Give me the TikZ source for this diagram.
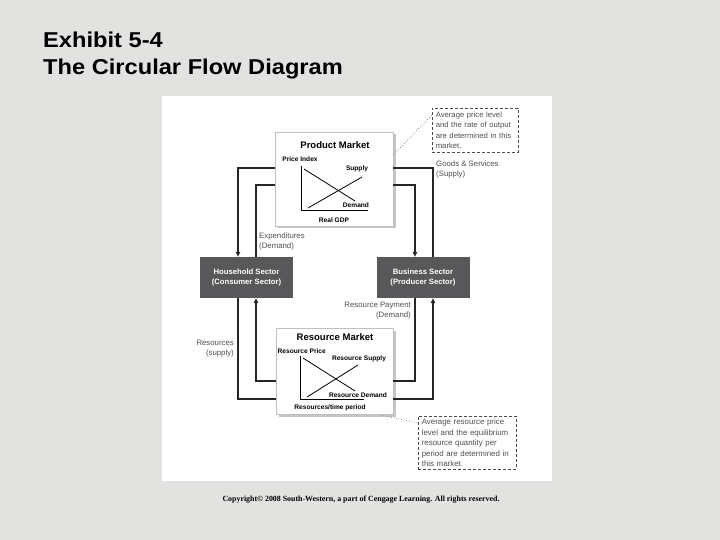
\documentclass[tikz,border=0pt]{standalone}
\usepackage{fontspec}
\setmainfont{Liberation Sans}
\newfontfamily\cfont{Liberation Serif}
\newfontfamily\titlefont{Liberation Sans}[FakeStretch=1.1]
\usetikzlibrary{shadows,arrows.meta}
\definecolor{bgc}{RGB}{226,226,224}
\definecolor{boxc}{RGB}{88,88,90}
\definecolor{lblc}{RGB}{80,80,80}
\begin{document}
\begin{tikzpicture}[x=1pt,y=-1pt,
  flow/.style={line width=1.1pt, draw=black!85},
  arr/.style={flow, -{Triangle[length=5pt,width=4.5pt]}},
  sector/.style={fill=boxc, text=white, font=\bfseries\fontsize{7.7}{10}\selectfont, minimum width=93pt, minimum height=41pt, align=center, inner sep=0pt},
  market/.style={draw=black!25, line width=0.3pt, fill=white, drop shadow={shadow xshift=2.5pt, shadow yshift=-2.5pt, opacity=0.45}, inner sep=0pt},
  mtitle/.style={font=\bfseries\fontsize{9.5}{11}\selectfont},
  axl/.style={font=\bfseries\fontsize{6.6}{8}\selectfont, inner sep=0.5pt},
  note/.style={draw=black!70, densely dashed, line width=0.6pt, fill=white, align=left, text=lblc, inner xsep=3.5pt, inner ysep=1.5pt, anchor=north west},
  lbl/.style={font=\fontsize{7.8}{9.5}\selectfont, text=lblc, inner sep=0pt},
  curve/.style={line width=0.8pt}
]
\useasboundingbox (0,0) rectangle (720,540);
\fill[bgc] (0,0) rectangle (720,540);
\fill[white] (162,96) rectangle (552,481);

% title
\node[anchor=base west, font=\titlefont\bfseries\fontsize{21.5}{24}\selectfont, inner sep=0pt] (t1) at (43,48) {Exhibit 5-4};
\node[anchor=base west, font=\titlefont\bfseries\fontsize{21.5}{24}\selectfont, inner sep=0pt] (t2) at (43,75) {The Circular Flow Diagram};

% sectors
\node[sector] (hh) at (246.5,277.5) {Household Sector\\(Consumer Sector)};
\node[sector] (bs) at (423,277.5) {Business Sector\\(Producer Sector)};

% markets
\node[market, minimum width=118pt, minimum height=94pt] (pm) at (334,179) {};
\node[market, minimum width=117pt, minimum height=86pt] (rm) at (334.5,371) {};

% guide coordinates
\coordinate (yOT) at (0,168);
\coordinate (yIT) at (0,185);
\coordinate (yIB) at (0,381);
\coordinate (yOB) at (0,399);
\coordinate (xOL) at (238,0);
\coordinate (xIL) at (256,0);
\coordinate (xIR) at (415,0);
\coordinate (xOR) at (433,0);

% goods & services
\draw[flow] (bs.north -| xOR) |- (pm.east |- yOT);
\draw[arr] (pm.west |- yOT) -| (hh.north -| xOL);
% expenditures
\draw[flow] (hh.north -| xIL) |- (pm.west |- yIT);
\draw[arr] (pm.east |- yIT) -| (bs.north -| xIR);
% resource payment
\draw[flow] (bs.south -| xIR) |- (rm.east |- yIB);
\draw[arr] (rm.west |- yIB) -| (hh.south -| xIL);
% resources
\draw[flow] (hh.south -| xOL) |- (rm.west |- yOB);
\draw[arr] (rm.east |- yOB) -| (bs.south -| xOR);

% product market contents
\node[mtitle] (pmt) at (335,145) {Product Market};
\node[axl] (pmy) at (300,159) {Price Index};
\coordinate (pa0) at (301,210);
\draw[line width=0.7pt] (301,166) -- (pa0) -- (368,210);
\draw[curve] (304,169) -- (355,201);
\draw[curve] (308,208) -- (362,177);
\node[axl] (pms) at (357,169) {Supply};
\node[axl] (pmd) at (356,205) {Demand};
\node[axl] (pmx) at (334,220) {Real GDP};

% resource market contents
\node[mtitle] (rmt) at (335,337) {Resource Market};
\node[axl, anchor=west] (rmy) at (277,351) {Resource Price};
\draw[line width=0.7pt] (300,356) -- (300,399) -- (364,399);
\draw[curve] (303,358) -- (355,391);
\draw[curve] (307,397) -- (358,365);
\node[axl] (rms) at (359,359) {Resource Supply};
\node[axl] (rmd) at (358,395) {Resource Demand};
\node[axl] (rmx) at (330,408) {Resources/time period};

% notes
\node[note, font=\fontsize{7.7}{10.3}\selectfont, text width=79pt, minimum height=44pt] (n1) at (432,108) {Average price level\\and the rate of output\\are determined in this\\market.};
\node[note, font=\fontsize{7.9}{10.4}\selectfont, text width=91pt, minimum height=53pt] (n2) at (418,416) {Average resource price\\level and the equilibrium\\resource quantity per\\period are determined in\\this market.};
\coordinate (d1) at (393,155);
\coordinate (d2) at (381,415);
\draw[dotted, line width=0.6pt, black!70] (d1) -- ([yshift=-7pt]n1.north west);
\draw[dotted, line width=0.6pt, black!70] (d2) -- ([yshift=-7pt]n2.north west);

% flow labels
\node[lbl, anchor=north west, align=left] (lg) at (436,161) {Goods \& Services\\(Supply)};
\node[lbl, anchor=north west, align=left] (le) at (259,233) {Expenditures\\(Demand)};
\node[lbl, anchor=north east, align=right] (lr) at (411,302) {Resource Payment\\(Demand)};
\node[lbl, anchor=north east, align=right] (ls) at (234,340) {Resources\\(supply)};

% copyright
\node[font=\cfont\bfseries\fontsize{7.9}{9}\selectfont] (cp) at (361,500) {Copyright\textcopyright{} 2008 South-Western, a part of Cengage Learning. All rights reserved.};
\end{tikzpicture}
\end{document}
